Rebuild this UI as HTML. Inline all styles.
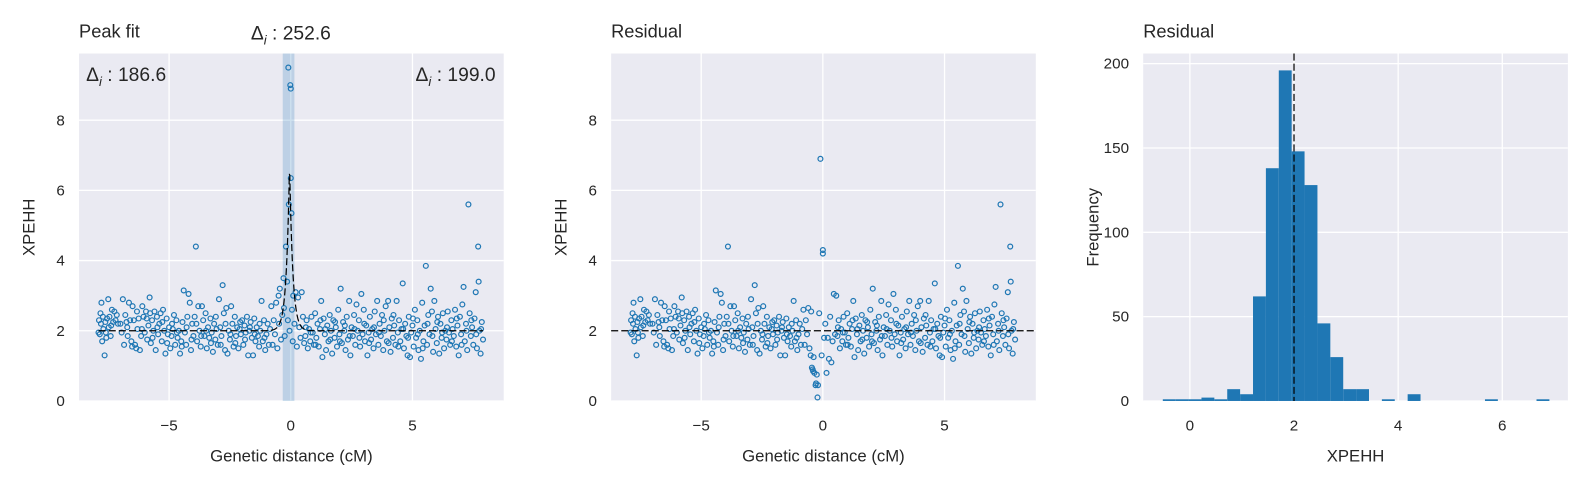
<!DOCTYPE html>
<html><head><meta charset="utf-8"><style>
body{margin:0;background:#fff}
svg text{font-family:"Liberation Sans",sans-serif;fill:#262626}
</style></head><body>
<svg width="1588" height="488" viewBox="0 0 1588 488" xmlns="http://www.w3.org/2000/svg"><g id="fig" transform="scale(1.0135,1.01)"></g></svg>
<script>
const baseLeft=[[-7.9,1.95],[-7.88,2.3],[-7.85,1.9],[-7.8,2.2],[-7.78,2.8],[-7.75,1.7],[-7.72,2.4],[-7.7,2.05],[-7.65,1.3],[-7.62,2.25],[-7.6,1.95],[-7.55,2.35],[-7.5,2.9],[-7.48,2.1],[-7.45,2.4],[-7.4,1.85],[-7.35,2.6],[-7.3,2.25],[-7.25,2.55],[-7.2,2.3],[-7.1,2.2],[-7.0,2.2],[-6.9,2.9],[-6.85,1.6],[-6.8,2.45],[-6.75,2.25],[-6.7,1.85],[-6.65,2.8],[-6.6,2.3],[-6.55,1.7],[-6.5,2.7],[-6.45,2.3],[-6.4,1.6],[-6.35,1.5],[-6.3,2.05],[-6.25,2.35],[-6.2,1.45],[-6.15,1.85],[-6.1,2.7],[-6.05,2.4],[-6.0,1.95],[-5.95,2.55],[-5.9,1.75],[-5.85,2.15],[-5.8,2.95],[-5.78,2.5],[-5.75,1.65],[-5.7,2.3],[-5.65,2.0],[-5.6,2.55],[-5.55,1.45],[-5.5,2.4],[-5.45,1.9],[-5.4,2.2],[-5.35,2.5],[-5.3,1.7],[-5.25,2.6],[-5.2,2.0],[-5.15,1.35],[-5.1,2.35],[-5.05,1.9],[-5.0,2.1],[-4.95,1.5],[-4.9,1.85],[-4.85,2.05],[-4.8,2.45],[-4.75,1.6],[-4.7,2.3],[-4.65,1.8],[-4.6,2.0],[-4.55,1.35],[-4.5,1.7],[-4.45,2.25],[-4.4,3.15],[-4.35,1.95],[-4.3,1.6],[-4.25,2.4],[-4.2,3.05],[-4.15,2.8],[-4.1,1.45],[-4.05,2.2],[-4.0,1.85],[-3.95,2.4],[-3.9,4.4],[-3.85,1.7],[-3.8,2.7],[-3.75,2.0],[-3.7,1.55],[-3.65,2.7],[-3.6,2.3],[-3.55,1.85],[-3.5,2.5],[-3.45,1.5],[-3.4,2.1],[-3.35,1.8],[-3.3,2.35],[-3.25,1.95],[-3.2,1.4],[-3.15,2.2],[-3.1,1.75],[-3.05,2.05],[-3.0,1.6],[-2.95,2.9],[-2.9,2.1],[-2.85,1.85],[-2.8,3.3],[-2.75,2.5],[-2.7,1.45],[-2.65,2.65],[-2.6,1.35],[-2.55,2.0],[-2.5,1.75],[-2.45,2.7],[-2.4,2.2],[-2.35,1.55],[-2.3,2.4],[-2.25,1.85],[-2.2,2.1],[-2.15,1.5],[-2.1,2.05],[-2.05,1.9],[-2.0,2.3],[-1.95,1.6],[-1.9,2.15],[-1.85,1.95],[-1.8,2.4],[-1.75,1.3],[-1.7,2.0],[-1.65,2.25],[-1.6,1.8],[-1.55,1.3],[-1.5,2.35],[-1.45,1.7],[-1.4,2.1],[-1.35,1.85],[-1.3,1.55],[-1.25,2.0],[-1.2,2.85],[-1.15,1.7],[-1.1,2.3],[-1.05,1.45],[-1.0,1.9],[-0.95,2.2],[-0.9,1.6]];
const baseRight=[[0.6,1.85],[0.65,2.3],[0.7,1.5],[0.75,2.05],[0.8,1.7],[0.85,2.4],[0.9,1.95],[0.95,1.6],[1.0,2.5],[1.05,1.8],[1.1,2.2],[1.15,1.55],[1.2,2.05],[1.25,2.85],[1.3,1.25],[1.35,2.35],[1.4,1.9],[1.45,1.45],[1.5,2.15],[1.55,1.7],[1.6,2.45],[1.65,2.0],[1.7,1.35],[1.75,2.3],[1.8,1.8],[1.85,2.1],[1.9,1.55],[1.95,2.6],[2.0,1.9],[2.05,3.2],[2.1,1.65],[2.15,2.25],[2.2,2.0],[2.25,1.45],[2.3,2.4],[2.35,1.75],[2.4,2.85],[2.45,1.3],[2.5,2.1],[2.55,1.85],[2.6,2.45],[2.65,1.6],[2.7,2.75],[2.75,2.0],[2.8,2.3],[2.85,1.55],[2.9,3.05],[2.95,1.9],[3.0,2.6],[3.05,1.7],[3.1,2.15],[3.15,1.3],[3.2,1.95],[3.25,2.4],[3.3,1.75],[3.35,2.05],[3.4,1.5],[3.45,2.55],[3.5,1.9],[3.55,2.85],[3.6,1.6],[3.65,2.2],[3.7,1.85],[3.75,2.45],[3.8,1.45],[3.85,2.0],[3.9,2.7],[3.95,1.7],[4.0,2.85],[4.05,2.1],[4.1,1.4],[4.15,2.35],[4.2,1.8],[4.25,2.15],[4.3,1.6],[4.35,2.85],[4.4,1.95],[4.45,2.3],[4.5,1.7],[4.55,2.05],[4.6,3.35],[4.65,1.5],[4.7,2.2],[4.75,1.85],[4.8,1.3],[4.85,2.4],[4.9,1.25],[4.95,1.95],[5.0,2.15],[5.05,1.55],[5.1,2.6],[5.15,1.8],[5.2,2.3],[5.25,1.45],[5.3,2.0],[5.35,1.2],[5.4,2.8],[5.45,1.7],[5.5,2.15],[5.55,3.85],[5.6,1.6],[5.65,2.45],[5.7,1.9],[5.75,3.2],[5.8,2.55],[5.85,1.4],[5.9,2.85],[5.95,2.05],[6.0,1.65],[6.05,2.4],[6.1,1.35],[6.15,2.2],[6.2,1.8],[6.25,2.5],[6.3,1.5],[6.35,2.0],[6.4,1.75],[6.45,2.55],[6.5,1.95],[6.55,1.6],[6.6,2.3],[6.65,2.05],[6.7,1.85],[6.75,2.6],[6.8,1.55],[6.85,2.15],[6.9,1.3],[6.95,2.4],[7.0,1.9],[7.05,2.75],[7.1,3.25],[7.15,1.7],[7.2,2.2],[7.25,1.45],[7.3,5.6],[7.35,2.5],[7.4,1.85],[7.45,2.1],[7.5,1.6],[7.55,2.35],[7.6,3.1],[7.65,1.5],[7.7,4.4],[7.72,3.4],[7.75,2.0],[7.8,1.35],[7.85,2.25],[7.9,1.75]];
const baseExtra=[[-7.82,2.5],[-7.58,1.8],[-7.38,2.15],[-7.15,2.45],[-6.95,1.95],[-6.72,2.1],[-6.52,1.55],[-6.32,2.55],[-6.12,2.05],[-5.92,2.35],[-5.68,1.8],[-5.48,2.1],[-5.28,2.25],[-5.08,1.65],[-4.88,2.2],[-4.68,1.95],[-4.48,1.55],[-4.28,2.1],[-4.08,1.75],[-3.88,2.2],[-3.68,1.85],[-3.48,2.0],[-3.28,1.65],[-3.08,2.4],[-2.88,1.6],[-2.68,2.2],[-2.48,1.9],[-2.28,1.65],[-2.08,2.25],[-1.88,1.75],[-1.68,2.1],[-1.48,1.9],[-1.28,2.2],[-1.08,1.8],[0.62,2.1],[0.82,1.95],[1.02,1.6],[1.22,2.3],[1.42,2.05],[1.62,1.75],[1.82,2.25],[2.02,1.7],[2.22,2.15],[2.42,1.85],[2.62,2.05],[2.82,1.8],[3.02,2.2],[3.22,1.65],[3.42,2.1],[3.62,1.95],[3.82,2.3],[4.02,1.65],[4.22,2.45],[4.42,1.55],[4.62,2.05],[4.82,1.8],[5.02,2.35],[5.22,1.9],[5.42,1.5],[5.62,2.2],[5.82,1.85],[6.02,2.25],[6.22,1.95],[6.42,2.1],[6.62,1.7],[6.82,2.35],[7.02,1.6],[7.22,2.0],[7.42,2.3],[7.62,1.9],[7.82,2.05]];
const peakCentral=[[-0.85,2.05],[-0.8,2.7],[-0.75,1.6],[-0.7,2.3],[-0.65,1.9],[-0.6,2.8],[-0.55,1.5],[-0.5,3.0],[-0.48,2.2],[-0.45,3.2],[-0.4,1.75],[-0.35,2.45],[-0.3,3.5],[-0.28,2.65],[-0.25,1.85],[-0.2,4.4],[-0.15,3.4],[-0.12,2.3],[-0.1,9.5],[-0.08,5.6],[-0.05,2.0],[-0.02,9.0],[0.0,8.9],[0.0,6.35],[0.03,5.35],[0.05,2.6],[0.08,1.7],[0.1,3.0],[0.15,2.2],[0.2,3.1],[0.25,1.55],[0.3,2.95],[0.35,2.1],[0.4,1.8],[0.45,3.1],[0.5,2.4],[0.55,1.65]];
const residCentral=[[-0.85,2.05],[-0.8,2.6],[-0.75,1.6],[-0.7,2.3],[-0.65,1.9],[-0.6,2.65],[-0.55,1.5],[-0.5,1.3],[-0.48,2.55],[-0.45,0.95],[-0.42,0.9],[-0.4,0.85],[-0.38,1.25],[-0.35,0.8],[-0.3,0.45],[-0.28,0.5],[-0.25,0.75],[-0.22,0.1],[-0.2,0.45],[-0.15,2.5],[-0.1,6.9],[-0.05,1.3],[0.0,4.3],[0.0,4.2],[0.05,1.8],[0.1,2.2],[0.15,0.8],[0.2,1.8],[0.25,1.2],[0.3,2.4],[0.35,1.1],[0.4,1.7],[0.45,3.05],[0.5,1.9],[0.55,3.0]];
const histCounts=[1,1,1,2,1,7,4,62,138,196,148,128,46,26,7,7,0,1,0,4,0,0,0,0,0,1,0,0,0,1];
const histStart=-0.52, histBinWidth=0.2475;
const xTicksScatter=[-5,0,5], yTicksScatter=[0,2,4,6,8];
const xTicksHist=[0,2,4,6], yTicksHist=[0,50,100,150,200];
const fitBaseline=2, fitHeight=4.8, fitCenter=-0.05, fitScale=0.13;
const histMedian=2.0;

const NS='http://www.w3.org/2000/svg';
const svg=document.getElementById('fig');
function mk(tag,attrs,parent,text){const e=document.createElementNS(NS,tag);for(const k in attrs)e.setAttribute(k,attrs[k]);if(text!==undefined)e.textContent=text;(parent||svg).appendChild(e);return e;}
const T=53,B=397,W=419;
function scaler(d0,d1,r0,r1){return v=>r0+(v-d0)/(d1-d0)*(r1-r0);}

function axes(left,xd,yd,xt,yt,name,xlabel,ylabel,title){
  const g=mk('g',{});
  
  const sx=scaler(xd[0],xd[1],left,left+W), sy=scaler(yd[0],yd[1],B,T);
  const bg=mk('rect',{x:left,y:T,width:W,height:B-T,fill:'#eaeaf2'},g);
  
  xt.forEach(t=>{const l=mk('line',{x1:sx(t),x2:sx(t),y1:T,y2:B,stroke:'#fff','stroke-width':1.3},g);
    const tx=mk('text',{x:sx(t),y:426,'text-anchor':'middle','font-size':15},g,t<0?'\u2212'+(-t):String(t));});
  yt.forEach(t=>{const l=mk('line',{x1:left,x2:left+W,y1:sy(t),y2:sy(t),stroke:'#fff','stroke-width':1.3},g);
    const tx=mk('text',{x:left-14,y:sy(t)+5,'text-anchor':'end','font-size':15},g,String(t));});
  const xl=mk('text',{x:left+W/2,y:457,'text-anchor':'middle','font-size':16.5},g,xlabel);
  const yl=mk('text',{x:0,y:0,'text-anchor':'middle','font-size':16.5,transform:`translate(${left-44},${(T+B)/2}) rotate(-90)`},g,ylabel);
  const ti=mk('text',{x:left,y:37,'font-size':18},g,title);
  return {g,sx,sy};
}
function points(ax,arr){
  arr.forEach(p=>{const c=mk('circle',{cx:ax.sx(p[0]),cy:ax.sy(p[1]),r:2.4,fill:'none',stroke:'#1f77b4','stroke-width':1.2},ax.g);
    });
}
// Panel 1
const a1=axes(78,[-8.7,8.75],[0,9.9],xTicksScatter,yTicksScatter,'peak-fit-panel','Genetic distance (cM)','XPEHH','Peak fit');
const band=mk('rect',{x:a1.sx(-0.33),y:T,width:a1.sx(0.15)-a1.sx(-0.33),height:B-T,fill:'#1f77b4','fill-opacity':0.22},a1.g);

points(a1,baseLeft.concat(baseExtra,peakCentral,baseRight));
let d='';for(let i=0;i<=800;i++){const x=-7.9+i*15.8/800;const y=fitBaseline+fitHeight*Math.exp(-Math.abs(x-fitCenter)/fitScale);d+=(i?'L':'M')+a1.sx(x).toFixed(2)+','+a1.sy(y).toFixed(2);}
const fit=mk('path',{d,fill:'none',stroke:'#000','stroke-width':1.2,'stroke-dasharray':'7,3'},a1.g);

function delta(x,y,anchor,val,name){const t=mk('text',{x,y,'text-anchor':anchor,'font-size':19},svg);
  mk('tspan',{},t,'\u0394');mk('tspan',{'font-size':13,dy:5,'font-style':'italic'},t,'i');mk('tspan',{dy:-5},t,' : '+val);}
delta(287,39,'middle','252.6','delta-peak-label');
delta(85,80,'start','186.6','delta-left-label');
delta(489,80,'end','199.0','delta-right-label');
// Panel 2
const a2=axes(603,[-8.7,8.75],[0,9.9],xTicksScatter,yTicksScatter,'residual-scatter-panel','Genetic distance (cM)','XPEHH','Residual');
points(a2,baseLeft.concat(baseExtra,residCentral,baseRight));
const hl=mk('line',{x1:603,x2:603+W,y1:a2.sy(fitBaseline),y2:a2.sy(fitBaseline),stroke:'#000','stroke-width':1.2,'stroke-dasharray':'7,3'},a2.g);

// Panel 3
const a3=axes(1128,[-0.896,7.26],[0,206],xTicksHist,yTicksHist,'residual-histogram-panel','XPEHH','Frequency','Residual');
histCounts.forEach((c,k)=>{if(!c)return;const x0=histStart+k*histBinWidth;const r=mk('rect',{x:a3.sx(x0),y:a3.sy(c),width:a3.sx(x0+histBinWidth)-a3.sx(x0),height:a3.sy(0)-a3.sy(c),fill:'#1f77b4'},a3.g);
  });
const vl=mk('line',{x1:a3.sx(histMedian),x2:a3.sx(histMedian),y1:T,y2:B,stroke:'#000','stroke-width':1.2,'stroke-dasharray':'7,3'},a3.g);

</script>
</body></html>
